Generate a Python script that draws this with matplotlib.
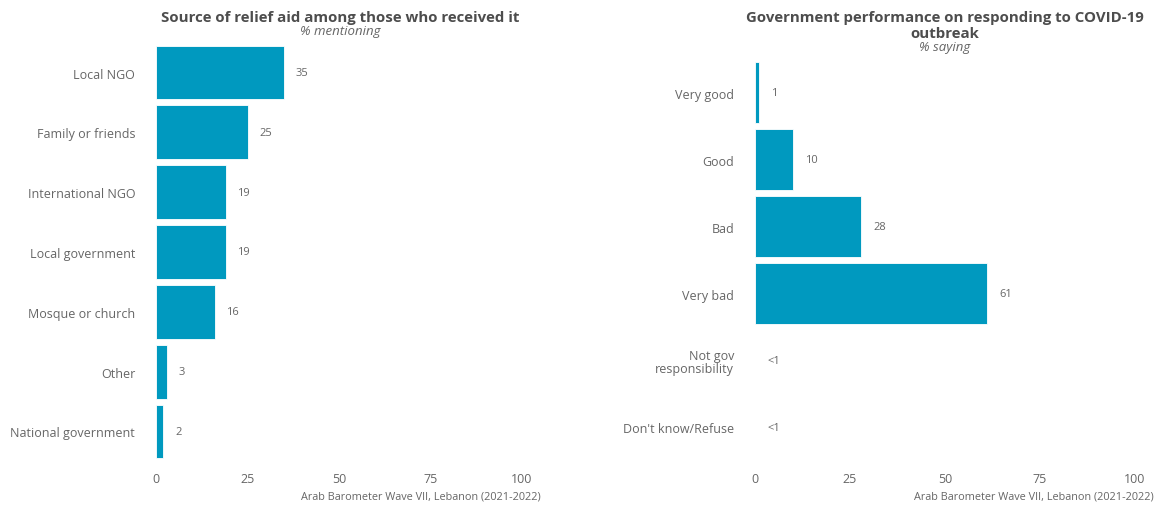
import matplotlib
matplotlib.use("Agg")
import matplotlib.pyplot as plt

plt.rcParams['font.family'] = ['Open Sans', 'DejaVu Sans']

# Left panel: source of relief aid
aid_sources = ["Local NGO", "Family or friends", "International NGO", "Local government",
               "Mosque or church", "Other", "National government"]
aid_values = [35, 25, 19, 19, 16, 3, 2]
aid_labels = ["35", "25", "19", "19", "16", "3", "2"]

# Right panel: government COVID-19 performance
perf_cats = ["Very good", "Good", "Bad", "Very bad", "Not gov\nresponsibility", "Don't know/Refuse"]
perf_values = [1, 10, 28, 61, 0, 0]
perf_labels = ["1", "10", "28", "61", "<1", "<1"]

x_ticks = [0, 25, 50, 75, 100]
caption = "Arab Barometer Wave VII, Lebanon (2021-2022)"

BAR = "#0099bf"
TXT = "#666666"
TITLE = "#4d4d4d"

fig = plt.figure(figsize=(11.58, 5.06), dpi=100)
W, H = 1158, 506


def panel(left_px, right_px, ylim, cats, vals, labels):
    ax = fig.add_axes([left_px / W, 1 - 466 / H, (right_px - left_px) / W, 426 / H])
    y = range(len(cats))
    ax.barh(y, vals, height=0.9, color=BAR, edgecolor="white", linewidth=0.6)
    for yi, v, lab in zip(y, vals, labels):
        ax.text(v + 3.2, yi, lab, va="center", ha="left", fontsize=8, color=TXT)
    ax.set_yticks(list(y))
    ax.set_yticklabels(cats, fontsize=9, color=TXT, linespacing=0.95)
    ax.set_xticks(x_ticks)
    ax.set_xticklabels([str(t) for t in x_ticks], fontsize=9, color=TXT)
    ax.set_xlim(0, 100)
    ax.set_ylim(*ylim)
    ax.tick_params(axis="both", length=0)
    ax.tick_params(axis="y", pad=15)
    ax.tick_params(axis="x", pad=5)
    for s in ax.spines.values():
        s.set_visible(False)
    return ax


ax1 = panel(156, 522, (6.56, -0.56), aid_sources, aid_values, aid_labels)
ax2 = panel(755, 1135, (5.56, -0.80), perf_cats, perf_values, perf_labels)

# titles
fig.text(340 / W, 1 - 18 / H, "Source of relief aid among those who received it",
         ha="center", va="center", fontsize=10.8, fontweight="bold", color=TITLE)
fig.text(340 / W, 1 - 31 / H, "% mentioning", ha="center", va="center",
         fontsize=9.5, style="italic", color=TXT)
fig.text(945 / W, 1 - 26 / H, "Government performance on responding to COVID-19\noutbreak",
         ha="center", va="center", fontsize=10.8, fontweight="bold", color=TITLE,
         linespacing=1.15)
fig.text(945 / W, 1 - 47 / H, "% saying", ha="center", va="center",
         fontsize=9.5, style="italic", color=TXT)

# captions
fig.text(541 / W, 1 - 497 / H, caption, ha="right", va="center", fontsize=7.8, color=TXT)
fig.text(1154 / W, 1 - 497 / H, caption, ha="right", va="center", fontsize=7.8, color=TXT)

fig.savefig("out.png", dpi=100)
